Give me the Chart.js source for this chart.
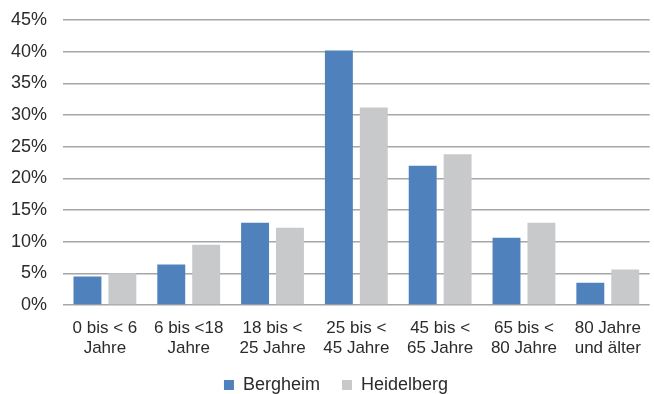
<!DOCTYPE html>
<html>
<head>
<meta charset="utf-8">
<script src="https://cdn.jsdelivr.net/npm/chart.js@4"></script>
<style>
  html, body { margin: 0; padding: 0; background: #fff; }
  #wrap { width: 654px; height: 394px; }
</style>
</head>
<body>
<div id="wrap"><canvas id="chart"></canvas></div>
<script>
// --- data ---
const categories = [
  ['0 bis < 6', 'Jahre'],
  ['6 bis <18', 'Jahre'],
  ['18 bis <', '25 Jahre'],
  ['25 bis <', '45 Jahre'],
  ['45 bis <', '65 Jahre'],
  ['65 bis <', '80 Jahre'],
  ['80 Jahre', 'und älter']
];
const bergheim = [4.5, 6.4, 13.0, 40.2, 22.0, 10.6, 3.5];
const heidelberg = [5.0, 9.5, 12.2, 31.2, 23.8, 13.0, 5.6];
const yTicks = [0, 5, 10, 15, 20, 25, 30, 35, 40, 45];

const family = "'Liberation Sans', Arial, sans-serif";
const textColor = '#2b2b2b';

// legend sits a little right of centre in the original
const nudgeLegend = {
  id: 'nudgeLegend',
  afterLayout: chart => { chart.legend.left += 20; }
};

new Chart(document.getElementById('chart'), {
  type: 'bar',
  data: {
    labels: categories,
    datasets: [
      { label: 'Bergheim', data: bergheim, backgroundColor: '#4f81bd' },
      { label: 'Heidelberg', data: heidelberg, backgroundColor: '#c8c9cb' }
    ]
  },
  plugins: [nudgeLegend],
  options: {
    responsive: true,
    maintainAspectRatio: false,
    animation: false,
    layout: { padding: { top: 20, right: 2, left: 0, bottom: -10 } },
    datasets: { bar: { categoryPercentage: 0.833, barPercentage: 0.8 } },
    plugins: {
      tooltip: { enabled: false },
      legend: {
        position: 'bottom',
        labels: {
          font: { family: family, size: 18, lineHeight: 1 },
          color: textColor,
          boxWidth: 10, boxHeight: 10, padding: 22
        }
      }
    },
    scales: {
      x: {
        grid: { display: false, drawTicks: false },
        border: { display: false },
        ticks: {
          font: { family: family, size: 17, lineHeight: 1.176 },
          color: textColor, maxRotation: 0, autoSkip: false, padding: 13
        },
        afterFit: axis => { axis.height = 49; }
      },
      y: {
        min: 0, max: 45,
        afterBuildTicks: axis => { axis.ticks = yTicks.map(v => ({ value: v })); },
        border: { display: false },
        grid: { color: '#a6a6a6', lineWidth: 1.5, drawTicks: false },
        ticks: {
          font: { family: family, size: 18, lineHeight: 1.2 },
          color: textColor, padding: 16, callback: v => v + '%'
        },
        afterFit: axis => {
          axis.width = 63;
          axis.paddingTop = 0;
          axis.paddingBottom = 0;
        }
      }
    }
  }
});
</script>
</body>
</html>
